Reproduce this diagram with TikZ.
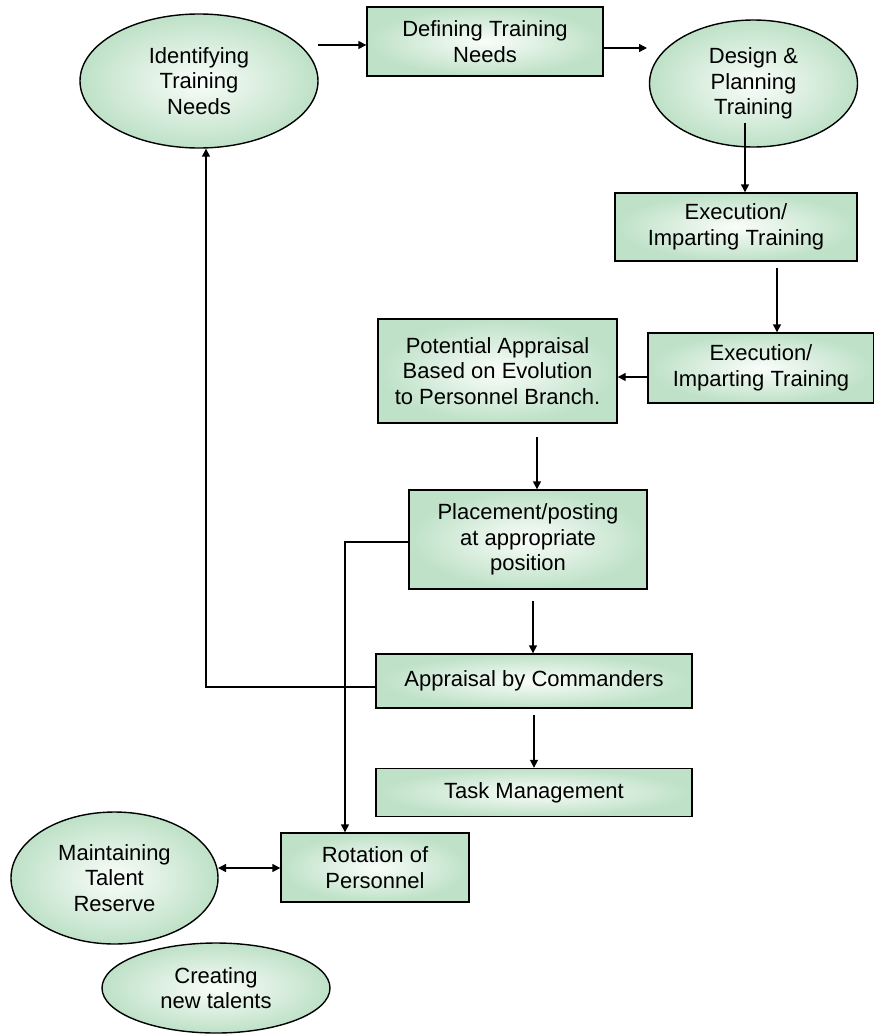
\documentclass[tikz,border=0pt]{standalone}
\usepackage{fontspec}
\setmainfont{Liberation Sans}
\usetikzlibrary{shapes.geometric,arrows.meta}
\definecolor{gouter}{RGB}{190,225,199}
\definecolor{ginner}{RGB}{250,253,250}
\tikzset{
  base/.style={draw=black, line width=1.4pt, inner color=ginner, outer color=gouter,
    align=center, inner sep=0pt, font=\fontsize{22}{25.5}\selectfont},
  box/.style={base, rectangle},
  oval/.style={base, ellipse},
  arr/.style={line width=1.4pt, -{Triangle[length=8pt,width=8pt]}},
  darr/.style={line width=1.4pt, {Triangle[length=8pt,width=8pt]}-{Triangle[length=8pt,width=8pt]}},
  ln/.style={line width=1.4pt}
}
\begin{document}
\begin{tikzpicture}[x=1pt,y=-1pt]
\useasboundingbox (0,0) rectangle (874,1036);
% nodes
\node[oval, minimum width=238pt, minimum height=134pt] (ident) at (199,81) {Identifying\\Training\\Needs};
\node[box, minimum width=236pt, minimum height=69pt] (def) at (485,41.5) {Defining Training\\Needs};
\node[oval, minimum width=208pt, minimum height=127pt] (design) at (753.5,83.5) {Design \&\\Planning\\Training};
\node[box, minimum width=242pt, minimum height=68pt] (exec1) at (736,227) {Execution/\\Imparting Training};
\node[box, minimum width=226pt, minimum height=70pt] (exec2) at (761,368) {Execution/\\Imparting Training};
\node[box, minimum width=239pt, minimum height=104pt] (pot) at (497.5,371) {Potential Appraisal\\Based on Evolution\\to Personnel Branch.};
\node[box, minimum width=238pt, minimum height=99pt] (place) at (528,539.5) {Placement/posting\\at appropriate\\position};
\node[box, minimum width=316pt, minimum height=54pt] (appr) at (534,681) {Appraisal by Commanders};
\node[box, minimum width=316pt, minimum height=48pt] (task) at (534,792.5) {Task Management};
\node[box, minimum width=188pt, minimum height=69pt] (rot) at (375,867.5) {Rotation of\\Personnel};
\node[oval, minimum width=207pt, minimum height=132pt] (maint) at (114.5,878) {Maintaining\\Talent\\Reserve};
\node[oval, minimum width=228pt, minimum height=90pt] (create) at (216,988) {Creating\\new talents};
% connectors
\coordinate (a1) at (318,45);
\draw[arr] (a1) -- (a1 -| def.west);
\coordinate (a2) at (647,48);
\draw[arr] (def.east |- a2) -- (a2);
\coordinate (a3) at (745,123);
\draw[arr] (a3) -- (a3 |- exec1.north);
\coordinate (a4) at (777,268);
\draw[arr] (a4) -- (a4 |- exec2.north);
\coordinate (a5) at (648,377);
\draw[arr] (a5) -- (a5 -| pot.east);
\coordinate (a6) at (537,437);
\draw[arr] (a6) -- (a6 |- place.north);
\coordinate (a7) at (533,601);
\draw[arr] (a7) -- (a7 |- appr.north);
\coordinate (a8) at (534,715);
\draw[arr] (a8) -- (a8 |- task.north);
\coordinate (b1) at (206,687);
\draw[arr] (b1 -| appr.west) -- (b1) -- (b1 |- ident.south);
\coordinate (b2) at (345,542);
\draw[arr] (b2 -| place.west) -- (b2) -- (b2 |- rot.north);
\coordinate (b3) at (218,868);
\draw[darr] (b3) -- (b3 -| rot.west);
\end{tikzpicture}
\end{document}
